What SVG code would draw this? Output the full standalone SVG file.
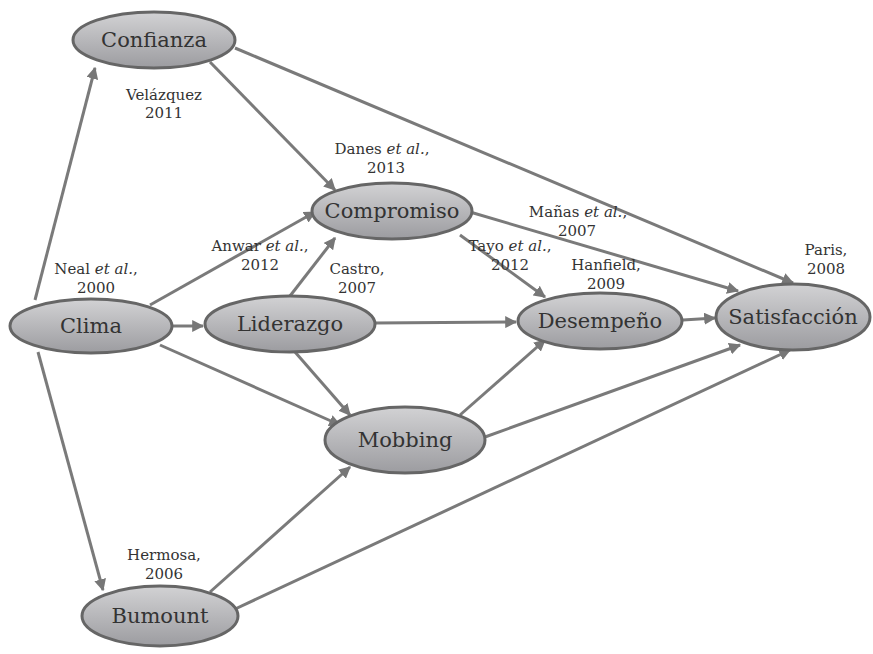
<svg xmlns="http://www.w3.org/2000/svg" width="873" height="654" viewBox="0 0 873 654">
<defs>
<linearGradient id="g" x1="0" y1="0" x2="0" y2="1">
<stop offset="0" stop-color="#d2d2d4"/>
<stop offset="1" stop-color="#9c9ca0"/>
</linearGradient>
<marker id="ah" viewBox="0 0 10 10" refX="9" refY="5" markerWidth="4" markerHeight="4" orient="auto">
<path d="M0,0 L10,5 L0,10 Z" fill="#777"/>
</marker>
</defs>
<style>
.n ellipse{fill:url(#g);stroke:#666;stroke-width:3}
.n text{font-family:"DejaVu Serif","Liberation Serif",serif;font-size:21px;fill:#333;text-anchor:middle}
.e line{stroke:#7a7a7a;stroke-width:3;marker-end:url(#ah)}
.l{font-family:"DejaVu Serif","Liberation Serif",serif;font-size:15px;fill:#333;text-anchor:middle}
</style>
<rect width="873" height="654" fill="#fff"/>
<g class="e" id="connectors">
<line x1="35" y1="300" x2="95" y2="68"/>
<line x1="38" y1="352" x2="103" y2="590"/>
<line x1="150" y1="305" x2="315" y2="212"/>
<line x1="172" y1="326" x2="203" y2="326"/>
<line x1="160" y1="345" x2="340" y2="425"/>
<line x1="210" y1="62" x2="335" y2="190"/>
<line x1="235" y1="48" x2="793" y2="283"/>
<line x1="290" y1="296" x2="335" y2="238"/>
<line x1="375" y1="323" x2="516" y2="322"/>
<line x1="295" y1="352" x2="350" y2="415"/>
<line x1="460" y1="235" x2="545" y2="297"/>
<line x1="470" y1="212" x2="738" y2="291"/>
<line x1="683" y1="320" x2="715" y2="318"/>
<line x1="460" y1="415" x2="545" y2="340"/>
<line x1="485" y1="437" x2="740" y2="345"/>
<line x1="210" y1="592" x2="350" y2="467"/>
<line x1="233" y1="610" x2="790" y2="350"/>
</g>
<g class="n" id="confianza"><ellipse cx="154" cy="40" rx="81" ry="28"/><text x="154" y="47">Confianza</text></g>
<g class="n" id="clima"><ellipse cx="91" cy="326" rx="81" ry="27"/><text x="91" y="333">Clima</text></g>
<g class="n" id="compromiso"><ellipse cx="392" cy="211" rx="80" ry="28"/><text x="392" y="218">Compromiso</text></g>
<g class="n" id="liderazgo"><ellipse cx="290" cy="324" rx="85" ry="28"/><text x="290" y="331">Liderazgo</text></g>
<g class="n" id="desempeno"><ellipse cx="600" cy="321" rx="82" ry="28"/><text x="600" y="328">Desempeño</text></g>
<g class="n" id="satisfaccion"><ellipse cx="793" cy="317" rx="77" ry="33"/><text x="793" y="324">Satisfacción</text></g>
<g class="n" id="mobbing"><ellipse cx="405" cy="440" rx="80" ry="33"/><text x="405" y="447">Mobbing</text></g>
<g class="n" id="bumount"><ellipse cx="160" cy="616" rx="78" ry="30"/><text x="160" y="623">Bumount</text></g>
<g id="labels">
<text class="l" x="164" y="100">Velázquez</text><text class="l" x="164" y="118">2011</text>
<text class="l" x="382" y="154">Danes <tspan font-style="italic">et al.</tspan>,</text><text class="l" x="386" y="173">2013</text>
<text class="l" x="260" y="251">Anwar <tspan font-style="italic">et al.</tspan>,</text><text class="l" x="260" y="270">2012</text>
<text class="l" x="96" y="274">Neal <tspan font-style="italic">et al.</tspan>,</text><text class="l" x="96" y="293">2000</text>
<text class="l" x="357" y="274">Castro,</text><text class="l" x="357" y="293">2007</text>
<text class="l" x="578" y="217">Mañas <tspan font-style="italic">et al.</tspan>,</text><text class="l" x="577" y="236">2007</text>
<text class="l" x="510" y="251">Tayo <tspan font-style="italic">et al.</tspan>,</text><text class="l" x="510" y="270">2012</text>
<text class="l" x="606" y="270">Hanfield,</text><text class="l" x="606" y="289">2009</text>
<text class="l" x="826" y="255">Paris,</text><text class="l" x="826" y="274">2008</text>
<text class="l" x="164" y="560">Hermosa,</text><text class="l" x="164" y="579">2006</text>
</g>
</svg>
